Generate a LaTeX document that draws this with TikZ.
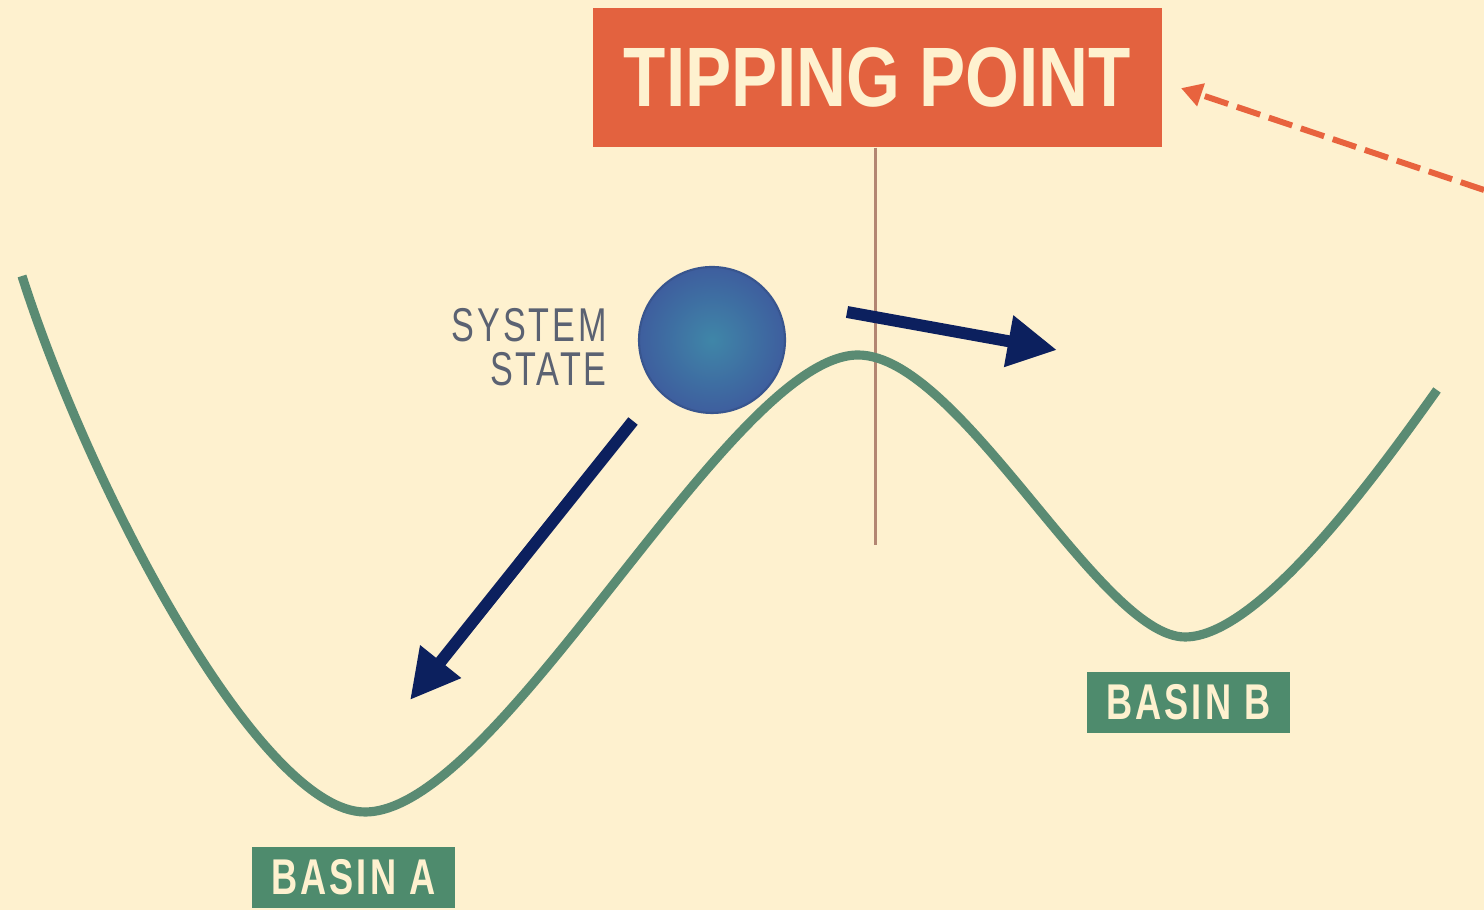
\documentclass[tikz,border=0pt]{standalone}
\usepackage{fontspec}
\setmainfont{Liberation Sans}
\newfontfamily\tipfont[FakeStretch=0.82]{Liberation Sans}
\newfontfamily\lblfont[FakeStretch=0.72,LetterSpace=6]{Liberation Sans}
\usetikzlibrary{arrows.meta}

\definecolor{paper}{HTML}{FEF1CF}
\definecolor{tipred}{HTML}{E3623F}
\definecolor{basingreen}{HTML}{4E8B6D}
\definecolor{curvegreen}{HTML}{5A8B73}
\definecolor{navy}{HTML}{0C205E}
\definecolor{stategray}{HTML}{5B6272}
\definecolor{stemline}{HTML}{B38672}
\definecolor{dashred}{HTML}{E8633E}
\definecolor{ballin}{HTML}{3F86A8}
\definecolor{ballout}{HTML}{3E5E9E}

\begin{document}
\begin{tikzpicture}[
    tipbox/.style={fill=tipred, text=paper, minimum width=5.69cm, minimum height=1.39cm,
        font=\tipfont\bfseries\fontsize{24}{28}\selectfont},
    basin/.style={fill=basingreen, text=paper, minimum width=2.03cm, minimum height=0.61cm,
        font=\lblfont\bfseries\fontsize{14.3}{16}\selectfont},
    ball/.style={circle, minimum size=1.46cm, inner color=ballin, outer color=ballout,
        draw=ballout!90!black, line width=0.6pt},
    push/.style={-{Triangle[length=14pt,width=14pt]}, draw=navy, line width=3.4pt},
    landscape/.style={draw=curvegreen, line width=2.6pt},
    hint/.style={-{Triangle[length=6pt,width=6.5pt]}, draw=dashred, line width=1.7pt,
        dash pattern=on 7pt off 2.6pt}
]
\useasboundingbox (0,0) rectangle (14.84,9.10);
\fill[paper] (0,0) rectangle (14.84,9.10);

\node[tipbox] (tp) at (8.775,8.325) {TIPPING POINT};
\coordinate (tpend) at (8.75,3.65);
\draw[stemline, line width=0.85pt] (tp.south -| tpend) -- (tpend);

\draw[landscape] (0.22,6.34)
    .. controls (0.9,4.2) and (2.6,0.98) .. (3.65,0.98)
    .. controls (5.0,0.98) and (7.3,5.55) .. (8.58,5.55)
    .. controls (9.6,5.55) and (11.0,2.73) .. (11.85,2.73)
    .. controls (12.6,2.73) and (13.8,4.4) .. (14.37,5.20);

\node[ball] (state) at (7.12,5.70) {};
\node[anchor=east, align=right, text=stategray,
    font=\lblfont\fontsize{13.5}{12.5}\selectfont] (label) at (6.19,5.63) {SYSTEM\\STATE};

\node[basin] (basinA) at (3.535,0.325) {BASIN A};
\node[basin] (basinB) at (11.885,2.075) {BASIN B};

\coordinate (fallA) at (6.33,4.89);
\coordinate (toA) at (4.10,2.10);
\coordinate (fallB) at (8.47,5.98);
\coordinate (toB) at (10.57,5.60);
\draw[push] (fallA) -- (toA);
\draw[push] (fallB) -- (toB);

\coordinate (offpage) at (14.84,7.20);
\draw[hint, shorten >=5.5pt] (offpage) -- (tp.east |- 0,8.28);

\end{tikzpicture}
\end{document}
